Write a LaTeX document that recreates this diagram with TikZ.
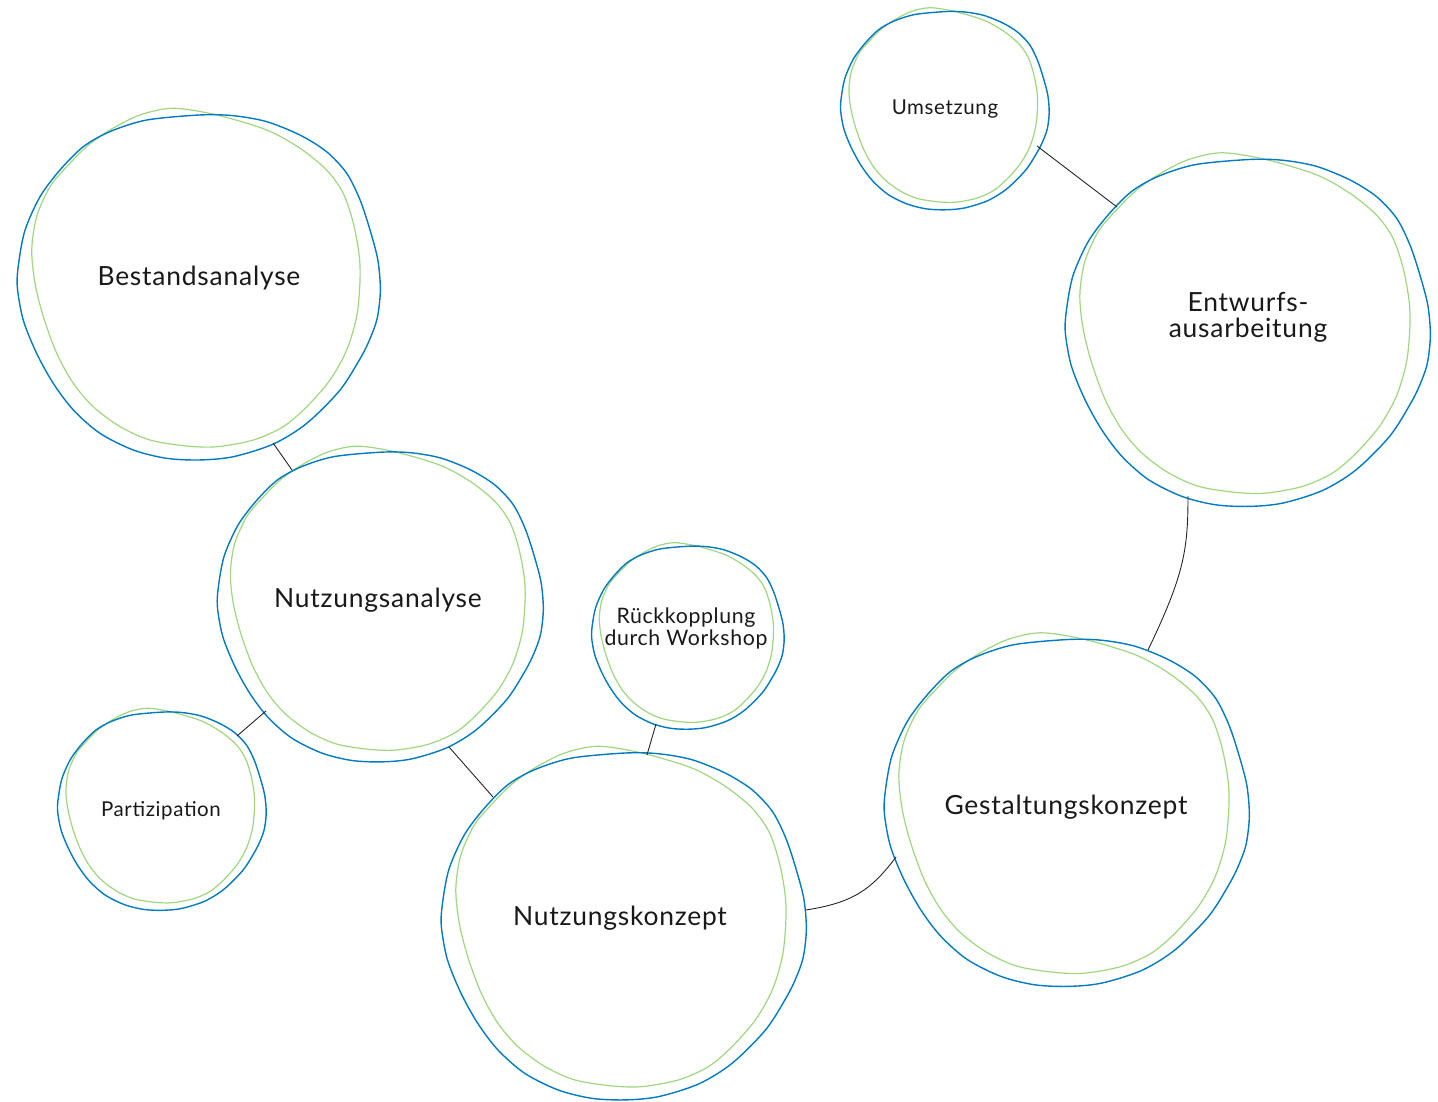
\documentclass[tikz,border=0pt]{standalone}
\usepackage{fontspec}
\setmainfont{Lato}[LetterSpace=3]
\definecolor{blobblue}{RGB}{0,122,194}
\definecolor{blobgreen}{RGB}{160,214,128}
\tikzset{
  blueline/.style={draw=blobblue, line width=1.4pt},
  greenline/.style={draw=blobgreen, line width=1.2pt},
  bigtext/.style={inner sep=0pt, text=black!90, font=\fontsize{26.4}{26}\selectfont},
  midtext/.style={inner sep=0pt, text=black!90, font=\fontsize{20.5}{22}\selectfont},
  smalltext/.style={inner sep=0pt, text=black!90, font=\fontsize{21.3}{22}\selectfont},
  link/.style={draw=black!85, line width=0.9pt},
}
\newcommand\drawblob[3]{%
  \begin{scope}[shift={(#1,#2)}, scale=#3]
    \draw[greenline] plot[smooth cycle] coordinates {
      (-0.142,-0.993) (0.098,-0.956) (0.374,-0.873) (0.558,-0.772) (0.705,-0.652)
      (0.797,-0.523) (0.853,-0.357) (0.886,-0.173) (0.889,-0.026) (0.871,0.158)
      (0.816,0.343) (0.724,0.508) (0.595,0.656) (0.466,0.766) (0.300,0.840)
      (0.098,0.877) (-0.068,0.873) (-0.271,0.840) (-0.436,0.766) (-0.584,0.656)
      (-0.694,0.527) (-0.786,0.361) (-0.860,0.158) (-0.906,-0.026) (-0.924,-0.210)
      (-0.897,-0.394) (-0.823,-0.560) (-0.731,-0.670) (-0.621,-0.781) (-0.492,-0.873)
      (-0.326,-0.956)};
    \draw[blueline] plot[smooth cycle] coordinates {
      (0.006,-0.956) (0.190,-0.952) (0.374,-0.919) (0.558,-0.845) (0.705,-0.753)
      (0.816,-0.634) (0.890,-0.486) (0.945,-0.320) (0.988,-0.155) (1.002,0.011)
      (0.985,0.165) (0.945,0.280) (0.893,0.385) (0.779,0.564) (0.595,0.748) (0.411,0.862)
      (0.190,0.932) (0.006,0.950) (-0.179,0.941) (-0.363,0.895) (-0.547,0.803)
      (-0.694,0.674) (-0.805,0.527) (-0.897,0.361) (-0.971,0.177) (-1.004,-0.007)
      (-0.996,-0.140) (-0.961,-0.320) (-0.878,-0.505) (-0.768,-0.652) (-0.639,-0.781)
      (-0.492,-0.864) (-0.289,-0.928)};
  \end{scope}}
\begin{document}
\begin{tikzpicture}[x=1pt, y=-1pt]
\useasboundingbox (0,0) rectangle (1438,1102);

\drawblob{199}{288}{181}
\drawblob{380.5}{607.5}{162.5}
\drawblob{162}{811.5}{104}
\drawblob{624}{927}{182}
\drawblob{688}{638}{96}
\drawblob{1067}{813.5}{182}
\drawblob{1248}{333.5}{182}
\drawblob{945}{111}{104}

\node[bigtext, anchor=base] (bestand) at (199,285) {Bestandsanalyse};
\node[bigtext, anchor=base] (nutzanalyse) at (378,607) {Nutzungsanalyse};
\node[midtext, anchor=base] (partizipation) at (161,816) {Partizipation};
\node[bigtext, anchor=base] (nutzkonzept) at (620,925) {Nutzungskonzept};
\node[smalltext, align=center] (rueck) at (686,628) {Rückkopplung\\durch Workshop};
\node[bigtext, anchor=base] (gestalt) at (1066,814) {Gestaltungskonzept};
\node[bigtext, align=center] (entwurf) at (1248,317) {Entwurfs-\\ausarbeitung};
\node[midtext, anchor=base] (umsetzung) at (945,115) {Umsetzung};

\coordinate (c1a) at (273,443); \coordinate (c1b) at (292,470);
\coordinate (c2a) at (266,711); \coordinate (c2b) at (237,736);
\coordinate (c3a) at (449,747); \coordinate (c3b) at (493,797);
\coordinate (c4a) at (656,724); \coordinate (c4b) at (647,755);
\coordinate (c5a) at (806,910); \coordinate (c5b) at (896,857);
\coordinate (c6a) at (1148,650); \coordinate (c6b) at (1188,496);
\coordinate (c7a) at (1037,146); \coordinate (c7b) at (1117,207);

\draw[link] (c1a) -- (c1b);
\draw[link] (c2a) -- (c2b);
\draw[link] (c3a) -- (c3b);
\draw[link] (c4a) -- (c4b);
\draw[link] (c5a) .. controls (850,903) and (870,892) .. (c5b);
\draw[link] (c6b) .. controls (1188,550) and (1184,575) .. (c6a);
\draw[link] (c7a) -- (c7b);
\end{tikzpicture}
\end{document}
